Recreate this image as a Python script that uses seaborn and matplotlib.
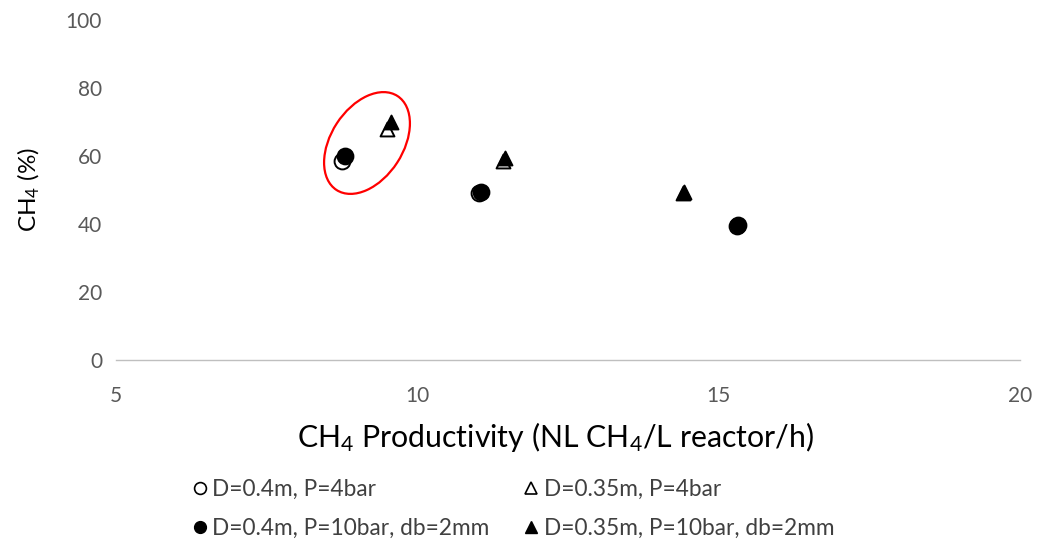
import matplotlib
matplotlib.use("Agg")
import matplotlib.pyplot as plt
import seaborn as sns
import pandas as pd
from matplotlib.patches import Ellipse
from matplotlib.lines import Line2D

# Productivity (x) and methane content (y) for each reactor configuration
open_circle_x = [8.75, 11.02, 15.30]
open_circle_y = [58.5, 49.0, 39.5]
filled_circle_x = [8.80, 11.05, 15.32]
filled_circle_y = [60.0, 49.5, 39.6]
open_tri_x = [9.50, 11.42, 14.40]
open_tri_y = [68.0, 58.5, 49.0]
filled_tri_x = [9.57, 11.45, 14.42]
filled_tri_y = [70.0, 59.5, 49.3]

labels = ["D=0.4m, P=4bar", "D=0.35m, P=4bar",
          "D=0.4m, P=10bar, db=2mm", "D=0.35m, P=10bar, db=2mm"]

sns.set_theme(style="white")
plt.rcParams["font.family"] = ["Lato", "DejaVu Sans"]
plt.rcParams["mathtext.default"] = "regular"

fig = plt.figure(figsize=(10.39, 5.44), dpi=100)
ax = fig.add_axes([116/1039, 1 - 360/544, (1020-116)/1039, (360-20)/544])

series = [
    (open_circle_x, open_circle_y, "o", "white", 130),
    (open_tri_x, open_tri_y, "^", "white", 100),
    (filled_circle_x, filled_circle_y, "o", "black", 130),
    (filled_tri_x, filled_tri_y, "^", "black", 100),
]
for xs, ys, m, fc, size in series:
    df = pd.DataFrame({"x": xs, "y": ys})
    sns.scatterplot(data=df, x="x", y="y", ax=ax, marker=m, s=size,
                    color=fc, edgecolor="black", linewidth=1.4, zorder=3)

ax.set_xlim(5, 20)
ax.set_ylim(0, 100)
ax.set_xticks([5, 10, 15, 20])
ax.set_yticks([0, 20, 40, 60, 80, 100])
ax.tick_params(axis="both", labelsize=15, labelcolor="#595959", length=0)
ax.tick_params(axis="x", pad=19)
ax.tick_params(axis="y", pad=10)
for s in ["top", "right", "left"]:
    ax.spines[s].set_visible(False)
ax.spines["bottom"].set_color("#bfbfbf")
ax.spines["bottom"].set_linewidth(1.0)

ax.set_xlabel(r"CH$_4$ Productivity (NL CH$_4$/L reactor/h)", fontsize=21.8, color="black")
ax.xaxis.set_label_coords(0.486, -0.177)
ax.set_ylabel(r"CH$_4$ (%)", fontsize=17.5, color="black", labelpad=17)

# Highlight around the lowest-productivity runs
ell = Ellipse((367, 544 - 143), width=72, height=112, angle=-33,
              transform=None, fill=False, edgecolor="red", linewidth=1.6)
fig.patches.append(ell)

handles = [
    Line2D([], [], marker="o", linestyle="", markerfacecolor="white", markeredgecolor="black", markersize=8.5, markeredgewidth=1.2),
    Line2D([], [], marker="o", linestyle="", markerfacecolor="black", markeredgecolor="black", markersize=8.5),
    Line2D([], [], marker="^", linestyle="", markerfacecolor="white", markeredgecolor="black", markersize=8, markeredgewidth=1.2),
    Line2D([], [], marker="^", linestyle="", markerfacecolor="black", markeredgecolor="black", markersize=8),
]
leg_labels = [labels[0], labels[2], labels[1], labels[3]]
fig.legend(handles, leg_labels, ncol=2, loc="center left", bbox_to_anchor=(168/1039, 1 - 509/544),
           frameon=False, fontsize=16.3, handletextpad=0.05, handlelength=1.0,
           columnspacing=1.35, labelspacing=0.8, labelcolor="#404040")

fig.savefig("out.png", dpi=100)
